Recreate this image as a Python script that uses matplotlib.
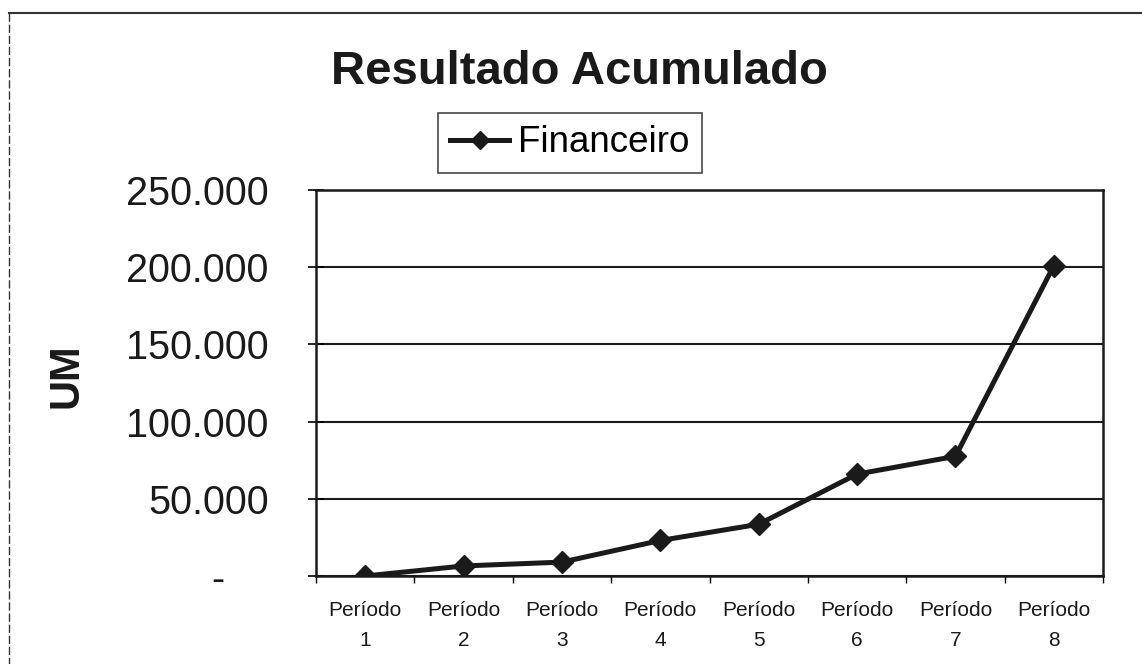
import matplotlib
matplotlib.use("Agg")
import matplotlib.pyplot as plt
from matplotlib.lines import Line2D
from matplotlib.ticker import FixedLocator

plt.rcParams['font.family'] = ['Liberation Sans', 'DejaVu Sans']

categories = ["Período\n1", "Período\n2", "Período\n3", "Período\n4",
              "Período\n5", "Período\n6", "Período\n7", "Período\n8"]
financeiro = [0, 6500, 9000, 23000, 33500, 66000, 77500, 201000]
y_ticks = [0, 50000, 100000, 150000, 200000, 250000]
y_tick_labels = ["-    ", "50.000", "100.000", "150.000", "200.000", "250.000"]

W, H = 1142, 664
fig = plt.figure(figsize=(W / 100, H / 100), dpi=100)
fig.patch.set_facecolor("white")

# axes position in pixels
left, right, top, bottom = 316, 1103, 190, 576
ax = fig.add_axes([left / W, 1 - bottom / H, (right - left) / W, (bottom - top) / H])

x = list(range(len(categories)))
ax.plot(x, financeiro, color="#1a1a1a", linewidth=3.6, marker="D",
        markersize=11, markerfacecolor="#1a1a1a", markeredgecolor="#1a1a1a",
        label="Financeiro", zorder=3)

ax.set_xlim(-0.5, len(categories) - 0.5)
ax.set_ylim(0, 250000)

ax.yaxis.set_major_locator(FixedLocator(y_ticks))
ax.set_yticklabels(y_tick_labels, fontsize=28.5, color="#1a1a1a")
ax.tick_params(axis="y", direction="inout", length=12, width=1.2, pad=28)

ax.set_xticks(x)
ax.set_xticklabels(categories, fontsize=15, color="#1a1a1a", linespacing=1.7)
ax.set_xticks([i - 0.5 for i in range(len(categories) + 1)], minor=True)
ax.tick_params(axis="x", which="major", length=0, pad=18)
ax.tick_params(axis="x", which="minor", direction="out", length=5, width=1)

ax.grid(axis="y", color="#1a1a1a", linewidth=1.5)
ax.set_axisbelow(True)
for s in ax.spines.values():
    s.set_color("#1a1a1a")
    s.set_linewidth(1.8)

ax.set_ylabel("UM", fontsize=30, fontweight="bold", color="#1a1a1a", labelpad=0)
ax.yaxis.set_label_coords(-(left - 86) / (right - left), 0.52)

fig.text(579 / W, 1 - 72 / H, "Resultado Acumulado", fontsize=34, fontweight="bold",
         color="#1a1a1a", ha="center", va="center")

leg = fig.legend(loc="center", bbox_to_anchor=(570 / W, 1 - 143 / H), fontsize=26.5,
                 frameon=True, fancybox=False, edgecolor="#1a1a1a",
                 handlelength=1.6, handletextpad=0.25, borderpad=0.33, markerscale=0.8)
leg.get_frame().set_linewidth(1.2)

# outer chart border (top and left visible)
fig.add_artist(Line2D([9 / W, 1.0], [1 - 13 / H, 1 - 13 / H], transform=fig.transFigure,
                      color="#333333", linewidth=1.5))
fig.add_artist(Line2D([9 / W, 9 / W], [1 - 13 / H, 0.0], transform=fig.transFigure,
                      color="#333333", linewidth=1.0, linestyle=(0, (6, 2))))

fig.savefig("out.png", dpi=100)
